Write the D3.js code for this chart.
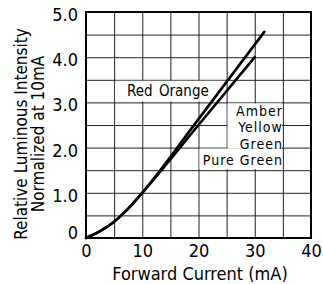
<!DOCTYPE html>
<html>
<head>
<meta charset="utf-8">
<script src="https://cdn.jsdelivr.net/npm/d3@7.9.0/dist/d3.min.js"></script>
<style>
  body { margin: 0; background: #fff; }
  svg { display: block; font-family: 'DejaVu Sans Condensed', 'DejaVu Sans', sans-serif; }
  .grid line { stroke: #222; stroke-width: 1; }
  .grid path { display: none; }
</style>
</head>
<body>
<svg id="chart" width="323" height="284"></svg>
<script>
// values
const redOrangeCurrent = [0, 2.5, 5, 7.5, 10, 20, 31.7];
const redOrangeIntensity = [0, 0.15, 0.36, 0.65, 1.0, 2.63, 4.56];
const greenCurrent = [0, 2.5, 5, 7.5, 10, 20, 30];
const greenIntensity = [0, 0.15, 0.36, 0.65, 1.0, 2.5, 4.0];

const xTicks = [0, 10, 20, 30, 40];
const yTicks = [0, 1, 2, 3, 4, 5];
const yTickLabels = ['0', '1.0', '2.0', '3.0', '4.0', '5.0'];
const redOrangeLabel = 'Red Orange';
const greenLabels = ['Amber', 'Yellow', 'Green', 'Pure Green'];

const svg = d3.select('#chart');
const plotLeft = 86, plotRight = 311, plotTop = 12, plotBottom = 238;

let x = d3.scaleLinear().domain([0, 40]).range([plotLeft, plotRight]);
let y = d3.scaleLinear().domain([0, 5]).range([plotBottom, plotTop]);

// grid
svg.append('g')
   .attr('class', 'grid')
   .attr('transform', `translate(0,${plotBottom})`)
   .call(d3.axisBottom(x).tickValues(d3.range(0, 41, 5)).tickSize(-(plotBottom - plotTop)).tickFormat(''));
svg.append('g')
   .attr('class', 'grid')
   .attr('transform', `translate(${plotLeft},0)`)
   .call(d3.axisLeft(y).tickValues(d3.range(0, 5.01, 0.5)).tickSize(-(plotRight - plotLeft)).tickFormat(''));

// white cells behind the labels (grid edges stay visible)
let boxes = [
  { x0: 5, x1: 25, y0: 3.0, y1: 3.5, padBottom: 1 },
  { x0: 25, x1: 35, y0: 2.0, y1: 3.0, padBottom: -1 },
  { x0: 20, x1: 35, y0: 1.5, y1: 2.0, padBottom: 1 },
];
boxes.forEach((b) => {
  let yTop = y(b.y1) + 1;
  let yBot = y(b.y0) - b.padBottom;
  svg.append('rect')
     .attr('x', x(b.x0) + 1)
     .attr('y', yTop)
     .attr('width', x(b.x1) - x(b.x0) - 2)
     .attr('height', yBot - yTop)
     .attr('fill', '#fff');
});

// frame
svg.append('rect')
   .attr('x', plotLeft).attr('y', plotTop)
   .attr('width', plotRight - plotLeft).attr('height', plotBottom - plotTop)
   .attr('fill', 'none').attr('stroke', '#000').attr('stroke-width', 2);

// tick labels
let xAxis = svg.append('g')
   .attr('transform', `translate(0,${plotBottom})`)
   .call(d3.axisBottom(x).tickValues(xTicks).tickSize(0).tickPadding(6).tickFormat(d3.format('d')));
xAxis.select('.domain').remove();
xAxis.attr('font-family', null).attr('font-size', null);
xAxis.selectAll('text').attr('font-size', 18).attr('fill', '#000');

let yAxis = svg.append('g')
   .attr('transform', `translate(${plotLeft},0)`)
   .call(d3.axisLeft(y).tickValues(yTicks).tickSize(0).tickPadding(8).tickFormat((d, i) => yTickLabels[i]));
yAxis.select('.domain').remove();
yAxis.attr('font-family', null).attr('font-size', null);
yAxis.selectAll('text')
     .attr('font-size', 18).attr('fill', '#000')
     .attr('dy', (d) => (d === 0 ? 0 : 8.5));

// axis titles
svg.append('text')
   .attr('x', 200).attr('y', 280)
   .attr('text-anchor', 'middle')
   .attr('font-size', 18)
   .text('Forward Current (mA)');

let yTitle = svg.append('text')
   .attr('transform', 'translate(0,134) rotate(-90)')
   .attr('text-anchor', 'middle')
   .attr('font-size', 17);
yTitle.append('tspan').attr('x', 0).attr('y', 27).text('Relative Luminous Intensity');
yTitle.append('tspan').attr('x', 0).attr('y', 44).text('Normalized at 10mA');

// curve labels
svg.append('text')
   .attr('x', x(7.3)).attr('y', y(3.15))
   .attr('font-size', 15)
   .attr('word-spacing', 2)
   .text(redOrangeLabel);

greenLabels.forEach((label, i) => {
  svg.append('text')
     .attr('x', x(35))
     .attr('y', y(2.7) + i * 16.3)
     .attr('text-anchor', 'end')
     .attr('font-size', 14)
     .attr('letter-spacing', 1)
     .text(label);
});

// curves
let line = d3.line()
  .x((d) => x(d[0]))
  .y((d) => y(d[1]))
  .curve(d3.curveMonotoneX);

let series = [
  d3.zip(redOrangeCurrent, redOrangeIntensity),
  d3.zip(greenCurrent, greenIntensity),
];
series.forEach((s) => {
  svg.append('path')
     .attr('d', line(s))
     .attr('fill', 'none')
     .attr('stroke', '#000')
     .attr('stroke-width', 2.6)
     .attr('stroke-linecap', 'round');
});
</script>
</body>
</html>
